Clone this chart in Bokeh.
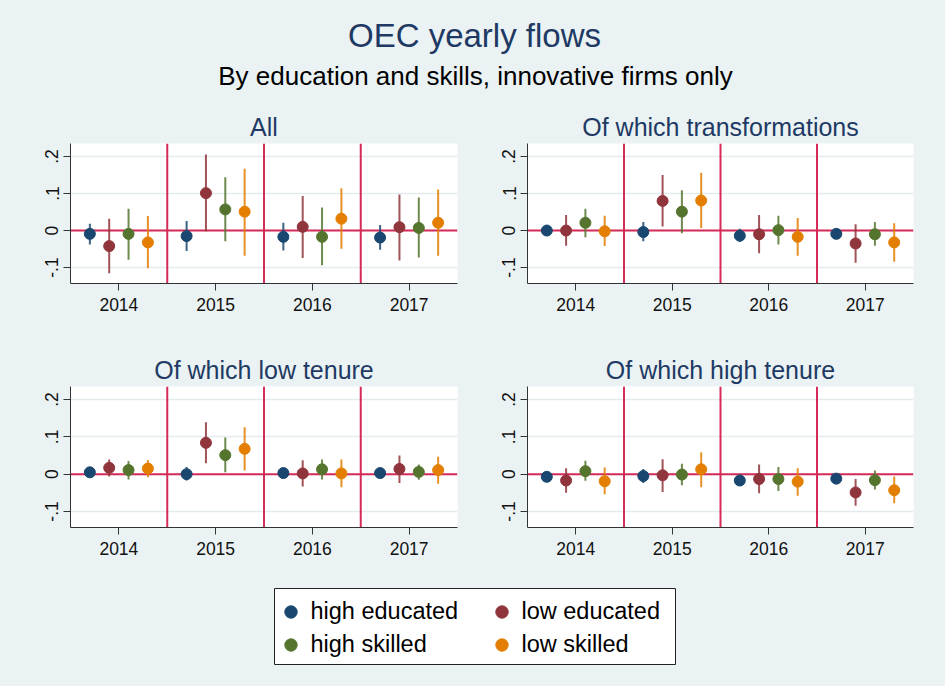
from bokeh.plotting import figure
from bokeh.layouts import column, row
from bokeh.models import (FactorRange, Range1d, Span, FixedTicker, Label, Legend, LegendItem,
                          BoxAnnotation, ColumnDataSource, GlobalInlineStyleSheet)
from bokeh.transform import dodge
from bokeh.embed import file_html
from bokeh.resources import INLINE

# ---------------- data ----------------
years = ["2014", "2015", "2016", "2017"]
series = ["high educated", "low educated", "high skilled", "low skilled"]
panel_titles = ["All", "Of which transformations", "Of which low tenure", "Of which high tenure"]
main_title = "OEC yearly flows"
sub_title = "By education and skills, innovative firms only"
y_ticks = [-0.1, 0, 0.1, 0.2]
y_tick_labels = ["-.1", "0", ".1", ".2"]

# rows: high educated, low educated, high skilled, low skilled; columns: years
all_est = [[-0.009, -0.015, -0.017, -0.019],
           [-0.042, 0.101, 0.010, 0.009],
           [-0.009, 0.057, -0.017, 0.007],
           [-0.032, 0.051, 0.032, 0.021]]
all_lo = [[-0.038, -0.055, -0.054, -0.052],
          [-0.115, -0.002, -0.074, -0.081],
          [-0.079, -0.029, -0.094, -0.073],
          [-0.102, -0.068, -0.049, -0.068]]
all_hi = [[0.018, 0.026, 0.021, 0.015],
          [0.032, 0.205, 0.093, 0.097],
          [0.059, 0.144, 0.062, 0.089],
          [0.039, 0.167, 0.114, 0.111]]

trans_est = [[0.000, -0.004, -0.014, -0.009],
             [0.000, 0.080, -0.010, -0.035],
             [0.021, 0.051, 0.001, -0.010],
             [-0.002, 0.081, -0.017, -0.032]]
trans_lo = [[-0.010, -0.029, -0.031, -0.018],
            [-0.041, 0.011, -0.061, -0.087],
            [-0.018, -0.007, -0.038, -0.041],
            [-0.042, 0.007, -0.068, -0.084]]
trans_hi = [[0.008, 0.023, 0.005, 0.002],
            [0.042, 0.150, 0.042, 0.017],
            [0.059, 0.109, 0.040, 0.023],
            [0.040, 0.156, 0.034, 0.020]]

lowten_est = [[0.005, 0.000, 0.003, 0.003],
              [0.017, 0.084, 0.002, 0.014],
              [0.011, 0.051, 0.013, 0.006],
              [0.015, 0.068, 0.002, 0.011]]
lowten_lo = [[-0.002, -0.017, -0.004, -0.004],
             [-0.006, 0.029, -0.033, -0.024],
             [-0.014, 0.005, -0.014, -0.015],
             [-0.008, 0.010, -0.035, -0.026]]
lowten_hi = [[0.012, 0.019, 0.010, 0.010],
             [0.039, 0.139, 0.037, 0.050],
             [0.035, 0.098, 0.039, 0.026],
             [0.038, 0.126, 0.039, 0.047]]

highten_est = [[-0.007, -0.005, -0.017, -0.012],
               [-0.017, -0.003, -0.013, -0.049],
               [0.008, -0.001, -0.013, -0.016],
               [-0.019, 0.013, -0.020, -0.043]]
highten_lo = [[-0.017, -0.024, -0.026, -0.021],
              [-0.050, -0.048, -0.051, -0.085],
              [-0.018, -0.030, -0.045, -0.041],
              [-0.054, -0.035, -0.058, -0.078]]
highten_hi = [[0.003, 0.014, -0.008, -0.002],
              [0.016, 0.040, 0.026, -0.013],
              [0.036, 0.028, 0.019, 0.010],
              [0.018, 0.059, 0.016, -0.006]]

# ---------------- style ----------------
BG = "#EAF2F3"
NAVY_T = "#1E3A64"
RED = "#D52B58"
GRID = "#E3EBED"
AXIS = "#333333"
COLORS = ["#1A476F", "#90353B", "#55752F", "#E37E00"]
OFFSETS = [-0.3, -0.1, 0.1, 0.3]
FONT = "Liberation Sans"
Y_MIN, Y_MAX = -0.143, 0.235
NAN = float("nan")


def make_panel(title, est, lo, hi, width, height, bl, br, bt, bb):
    p = figure(width=width, height=height,
               x_range=FactorRange(factors=years, range_padding=0),
               y_range=Range1d(Y_MIN, Y_MAX),
               output_backend="svg", toolbar_location=None,
               min_border_left=bl, min_border_right=br,
               min_border_top=bt, min_border_bottom=bb,
               background_fill_color="white", border_fill_color=BG,
               outline_line_color=None)
    p.title.text = title
    p.title.align = "center"
    p.title.text_font = FONT
    p.title.text_font_size = "25px"
    p.title.text_font_style = "normal"
    p.title.text_color = NAVY_T
    p.title.standoff = 5

    p.xgrid.visible = False
    p.ygrid.ticker = FixedTicker(ticks=y_ticks)
    p.ygrid.grid_line_color = GRID
    p.ygrid.grid_line_width = 1.5

    p.yaxis.ticker = FixedTicker(ticks=y_ticks)
    p.yaxis.major_label_overrides = dict(zip(y_ticks, y_tick_labels))
    p.yaxis.major_label_orientation = "vertical"
    for ax in (p.xaxis, p.yaxis):
        ax.axis_line_color = AXIS
        ax.major_tick_line_color = AXIS
        ax.minor_tick_line_color = None
        ax.major_tick_in = 0
        ax.major_tick_out = 7
        ax.major_label_text_font = FONT
        ax.major_label_text_font_size = "17.5px"
        ax.major_label_text_color = "#111111"
    p.xaxis.major_label_standoff = 7
    p.yaxis.major_label_standoff = 5

    for k in range(1, len(years)):
        p.add_layout(Span(location=k, dimension="height", line_color=RED,
                          line_width=2, level="underlay"))
    p.add_layout(Span(location=0, dimension="width", line_color=RED,
                      line_width=2, level="underlay"))

    for i, s in enumerate(series):
        src = ColumnDataSource(dict(year=years, est=est[i], lo=lo[i], hi=hi[i]))
        xd = dodge("year", OFFSETS[i], range=p.x_range)
        p.segment(x0=xd, x1=xd, y0="lo", y1="hi", source=src,
                  line_color=COLORS[i], line_width=2, line_alpha=0.85)
        p.scatter(x=xd, y="est", source=src, size=11,
                  fill_color=COLORS[i], line_color=COLORS[i])
    return p


# left figure 492 wide, right figure 453 wide
p1 = make_panel(panel_titles[0], all_est, all_lo, all_hi, 492, 243, 70, 35, 43, 60)
p2 = make_panel(panel_titles[1], trans_est, trans_lo, trans_hi, 453, 243, 35, 32, 43, 60)
p3 = make_panel(panel_titles[2], lowten_est, lowten_lo, lowten_hi, 492, 242, 70, 35, 43, 58)
p4 = make_panel(panel_titles[3], highten_est, highten_lo, highten_hi, 453, 242, 35, 32, 43, 58)

# header
HW, HH = 945, 100
hf = figure(width=HW, height=HH, x_range=Range1d(0, HW), y_range=Range1d(0, HH),
            output_backend="svg", toolbar_location=None, min_border=0,
            x_axis_location=None, y_axis_location=None, outline_line_color=None,
            background_fill_color=BG, border_fill_color=BG)
hf.xgrid.visible = False
hf.ygrid.visible = False
hf.add_layout(Label(x=474, y=HH - 34.5, text=main_title, text_align="center",
                    text_baseline="alphabetic", text_font=FONT, text_font_size="33px",
                    text_color=NAVY_T))
hf.add_layout(Label(x=475, y=HH - 75, text=sub_title, text_align="center",
                    text_baseline="alphabetic", text_font=FONT, text_font_size="26px",
                    text_color="#000000"))

# legend figure
LW, LH = 945, 101
lf = figure(width=LW, height=LH, x_range=Range1d(0, LW), y_range=Range1d(0, LH),
            output_backend="svg", toolbar_location=None, min_border=0,
            x_axis_location=None, y_axis_location=None, outline_line_color=None,
            background_fill_color=BG, border_fill_color=BG)
lf.xgrid.visible = False
lf.ygrid.visible = False
lf.add_layout(BoxAnnotation(left=274, right=675, bottom=22, top=98,
                            fill_color="white", fill_alpha=1.0,
                            line_color="#222222", line_width=1, line_alpha=1.0))
rends = [lf.scatter(x=[NAN], y=[NAN], size=12, fill_color=c, line_color=c) for c in COLORS]


def make_legend(idx, loc):
    return Legend(items=[LegendItem(label=series[i], renderers=[rends[i]]) for i in idx],
                  location=loc, orientation="vertical", padding=0, margin=0, spacing=0,
                  glyph_width=31, glyph_height=33, label_height=33, label_standoff=5,
                  label_text_font=FONT, label_text_font_size="23.5px",
                  label_text_color="#000000",
                  background_fill_alpha=0, border_line_color=None)


lf.add_layout(make_legend([0, 2], (274.5, 25.5)))
lf.add_layout(make_legend([1, 3], (485.5, 25.5)))

layout = column(hf, row(p1, p2), row(p3, p4), lf,
                stylesheets=[GlobalInlineStyleSheet(css="body{background:#EAF2F3;}")])

open("out.html", "w").write(file_html(layout, INLINE))
